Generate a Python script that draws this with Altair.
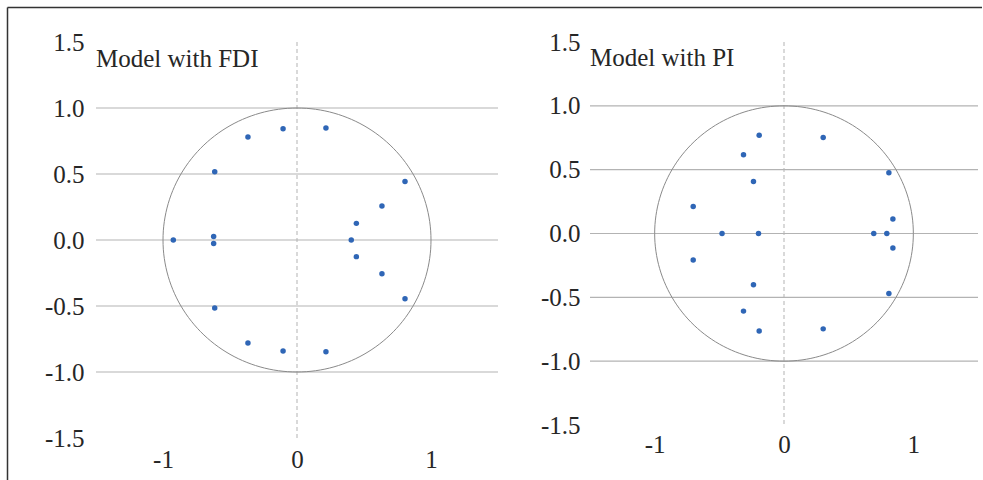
import altair as alt
import pandas as pd

fdi_re = [0.216, 0.216, -0.104, -0.104, -0.366, -0.366, -0.614, -0.614, 0.806, 0.806,
          0.634, 0.634, 0.443, 0.443, 0.405, -0.923, -0.622, -0.622]
fdi_im = [0.848, -0.846, 0.843, -0.841, 0.780, -0.780, 0.517, -0.515, 0.444, -0.445,
          0.258, -0.255, 0.126, -0.126, 0.0, 0.0, 0.027, -0.026]

pi_re = [-0.192, -0.192, 0.303, 0.303, -0.313, -0.313, -0.236, -0.236, 0.811, 0.811,
         -0.702, -0.702, 0.842, 0.842, -0.479, -0.197, 0.694, 0.795]
pi_im = [0.770, -0.763, 0.752, -0.747, 0.616, -0.608, 0.407, -0.402, 0.475, -0.470,
         0.211, -0.207, 0.114, -0.113, 0.0, 0.0, 0.0, 0.0]

titles = ["Model with FDI", "Model with PI"]
y_ticks = [-1.5, -1.0, -0.5, 0.0, 0.5, 1.0, 1.5]
x_ticks = [-1, 0, 1]
grid_y = [-1.0, -0.5, 0.0, 0.5, 1.0]

FONT = "Liberation Serif, Times New Roman, DejaVu Serif, serif"
TXT = "#262626"
DOT = "#2f66b6"


def panel(re, im, title, w, h, xpad, ypad, title_y, frame=False):
    xs = alt.Scale(domain=[-1.5, 1.5], nice=False, zero=False)
    ys = alt.Scale(domain=[-1.5, 1.5], nice=False, zero=False)
    xax = alt.Axis(values=x_ticks, domain=False, ticks=False, grid=False, title=None,
                   labelFont=FONT, labelFontSize=25, labelColor=TXT, labelPadding=xpad,
                   labelExpr="datum.value < 0 ? '-' + format(-datum.value, 'd') : format(datum.value, 'd')")
    yax = alt.Axis(values=y_ticks, domain=False, ticks=False, grid=False, title=None,
                   labelFont=FONT, labelFontSize=25, labelColor=TXT, labelPadding=ypad,
                   labelExpr="datum.value < 0 ? '-' + format(-datum.value, '.1f') : format(datum.value, '.1f')")

    grid = alt.Chart(pd.DataFrame({"g": grid_y})).mark_rule(
        color="#b3b3b3", strokeWidth=1.2).encode(
        y=alt.Y("g:Q", scale=ys, axis=yax))
    zero = alt.Chart(pd.DataFrame({"z": [0]})).mark_rule(
        color="#b3b3b3", strokeWidth=1, strokeDash=[4, 3]).encode(
        x=alt.X("z:Q", scale=xs, axis=xax))
    circle = alt.Chart(alt.sequence(0, 362, 2, as_="deg")).transform_calculate(
        cx="cos(datum.deg * PI / 180)", cy="sin(datum.deg * PI / 180)"
    ).mark_line(color="#8a8a8a", strokeWidth=1).encode(
        x=alt.X("cx:Q", scale=xs, axis=xax),
        y=alt.Y("cy:Q", scale=ys, axis=yax),
        order="deg:Q")
    pts = alt.Chart(pd.DataFrame({"re": re, "im": im})).mark_point(
        filled=True, size=30, opacity=1, color=DOT, strokeWidth=0).encode(
        x=alt.X("re:Q", scale=xs, axis=xax),
        y=alt.Y("im:Q", scale=ys, axis=yax))
    lab = alt.Chart(pd.DataFrame({"t": [title]})).mark_text(
        align="left", baseline="middle", font=FONT, fontSize=25, color=TXT).encode(
        x=alt.value(0), y=alt.value(title_y), text="t:N")
    layers = [grid, zero, circle, pts, lab]
    if frame:
        fr = pd.DataFrame({"k": [0]})
        top = alt.Chart(fr).mark_rule(color="#333333", strokeWidth=1.5).encode(
            x=alt.value(-88.5), x2=alt.value(886), y=alt.value(-34.5))
        left = alt.Chart(fr).mark_rule(color="#333333", strokeWidth=1.5).encode(
            x=alt.value(-88.5), y=alt.value(-34.5), y2=alt.value(440))
        layers += [top, left]
    return alt.layer(*layers).properties(width=w, height=h)


left = panel(fdi_re, fdi_im, titles[0], 402, 396, 9, 12, 17, frame=True)
right = panel(pi_re, pi_im, titles[1], 388, 383, 7, 10, 16)

chart = alt.hconcat(left, right, spacing=92, bounds="flush").properties(
    padding={"left": 6, "top": 6, "right": 0, "bottom": 0},
    background="white",
).configure_view(strokeOpacity=0, strokeWidth=0)

chart.save("out.html", embed_options={"renderer": "svg", "actions": False})
